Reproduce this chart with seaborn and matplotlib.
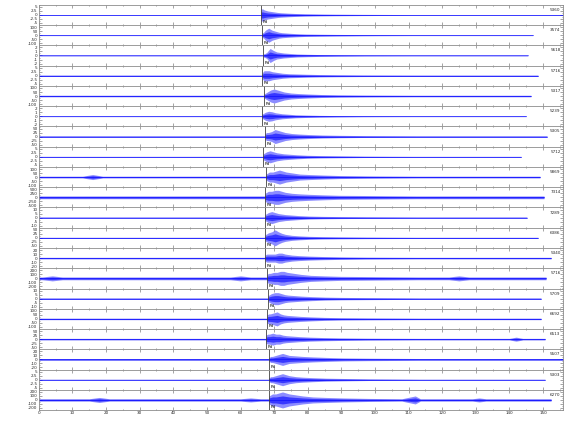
import numpy as np
import pandas as pd
import matplotlib
matplotlib.use("Agg")
import matplotlib.pyplot as plt
import seaborn as sns
from matplotlib.ticker import MultipleLocator, AutoMinorLocator

sns.set_style("ticks")

# station codes, top to bottom
stations = ["5360", "3574", "5618", "5716", "5317", "5239", "5305", "5712", "5869", "7314",
            "7289", "6386", "5340", "5716", "5709", "6692", "6513", "5507", "5303", "6270"]
# P pick time (s) and record end time (s)
pick_times = [66.1, 66.4, 66.8, 66.5, 67.0, 66.4, 67.3, 66.8, 67.6, 67.3,
              67.3, 67.3, 67.3, 67.9, 68.2, 67.9, 67.6, 68.5, 68.5, 68.5]
end_times = [156, 147.0, 145.5, 148.5, 146.4, 145.0, 151.2, 143.5, 149.1, 150.3,
             145.2, 148.5, 152.4, 150.9, 149.4, 149.4, 150.6, 156, 150.6, 152.4]
# background noise half-amplitude (display units, row = +-10)
noise_amp = [0.4, 0.4, 0.4, 0.7, 0.8, 0.4, 0.7, 0.5, 0.9, 1.4,
             0.6, 0.6, 0.8, 1.4, 0.7, 0.8, 0.8, 0.9, 0.5, 1.2]
# y tick label range per trace (counts)
ytick_max = [5, 100, 2, 5, 100, 2, 50, 5, 100, 500, 10, 50, 20, 200, 10, 100, 50, 20, 5, 200]

# envelope of each trace, seconds after the pick
env_offsets = [0, 0.5, 1, 2, 3, 4, 5, 6, 8, 10, 13, 17, 22, 30]
envelopes = [
    [6, 6, 5, 4, 3.5, 3, 2.5, 2.2, 1.8, 1.5, 1.2, 1, 0.8, 0.6],
    [2, 3, 5, 7, 5, 4, 3, 2.5, 2, 1.6, 1.2, 1, 0.8, 0.6],
    [1.5, 2, 3, 7, 5, 3.5, 3, 2.5, 2, 1.5, 1.2, 0.9, 0.7, 0.5],
    [3, 5, 5, 5, 4, 3.5, 3, 2.5, 2, 1.8, 1.5, 1.2, 1, 0.8],
    [2, 3, 4, 6, 7, 6, 5, 4, 3, 2.5, 2, 1.5, 1.2, 1],
    [2, 3, 4, 5, 4.5, 3.5, 3, 2.5, 2, 1.5, 1.2, 0.9, 0.7, 0.5],
    [3, 4, 4, 5, 7, 6, 5, 4, 3, 2.5, 2, 1.5, 1.2, 0.9],
    [3, 4, 5, 6, 5, 4, 3.5, 3, 2.5, 2, 1.5, 1.2, 1, 0.7],
    [3, 4, 5, 5, 6, 7, 6, 5, 4, 3, 2.5, 2, 1.5, 1.2],
    [4, 5, 6, 6, 7, 7, 6, 5, 4, 3.5, 3, 2.5, 2, 1.8],
    [3, 4, 5, 6, 5, 4, 3.5, 3, 2.5, 2, 1.5, 1.2, 1, 0.8],
    [3, 4, 5, 6, 8, 6, 4.5, 3.5, 2.5, 2, 1.5, 1.2, 1, 0.8],
    [3, 4, 4, 4, 4, 5, 5, 4, 3, 2.5, 2, 1.6, 1.3, 1],
    [4, 5, 5, 6, 6, 7, 7, 6, 5, 4, 3, 2.5, 2, 1.8],
    [3, 4, 5, 6, 6, 5, 4, 3.5, 3, 2.5, 2, 1.5, 1.2, 1],
    [4, 5, 5, 6, 7, 5, 4, 3.5, 3, 2.5, 2, 1.5, 1.2, 1],
    [4, 5, 5, 6, 5, 5, 4, 3.5, 3, 2.5, 2, 1.6, 1.3, 1],
    [2, 3, 3, 4, 5, 6, 5, 4, 3.5, 3, 2.5, 2, 1.5, 1.2],
    [2, 3, 3, 4, 5, 6, 5, 4, 3, 2.5, 2, 1.5, 1.2, 0.8],
    [4, 5, 6, 6, 7, 8, 7, 6, 5, 4, 3, 2.5, 2, 1.5],
]
# other wave packets seen on the records
burst_row = [8, 19, 19, 19, 19, 13, 13, 13, 16]
burst_time = [16, 18, 63, 112, 131, 4, 60, 125, 142]
burst_width = [3, 3, 3, 4, 2, 3, 3, 3, 2]
burst_amp = [2.5, 2.5, 2, 4, 2, 2.5, 2.5, 2.5, 2]

rows = []
for i, st in enumerate(stations):
    p, nz = pick_times[i], noise_amp[i]
    pts = [(0, nz), (p - 0.1, nz)]
    pts += [(p + o, a) for o, a in zip(env_offsets, envelopes[i])]
    pts += [(p + 45, nz), (end_times[i], nz)]
    for r, tc, w, a in zip(burst_row, burst_time, burst_width, burst_amp):
        if r == i:
            pts += [(tc - w, nz), (tc, a), (tc + w, nz)]
    pts.sort()
    for t, a in pts:
        rows.append({"row": i, "time": t, "amp": a})
df = pd.DataFrame(rows)

fig, axes = plt.subplots(len(stations), 1, figsize=(5.8, 4.4), dpi=100, sharex=True)
fig.subplots_adjust(left=0.067, right=0.971, top=0.989, bottom=0.068, hspace=0)

for i, ax in enumerate(axes):
    sub = df[df["row"] == i]
    # outer envelope light, inner core darker (dense wiggles)
    ax.fill_between(sub["time"], -sub["amp"], sub["amp"], color="blue", lw=0, alpha=0.45)
    ax.fill_between(sub["time"], -0.5 * sub["amp"], 0.5 * sub["amp"], color="blue",
                    lw=0, alpha=0.6)
    # baseline of the trace
    sns.lineplot(x=[0, end_times[i]], y=[0, 0], ax=ax, color="blue", lw=0.5,
                 alpha=0.7, estimator=None, legend=False)
    ax.axvline(pick_times[i], color="0.25", lw=0.6)
    ax.text(pick_times[i] + 0.4, -7.5, "Pd", fontsize=3, color="black", va="center")
    ax.text(0.995, 0.75, stations[i], transform=ax.transAxes, fontsize=3,
            ha="right", va="center")
    ax.set_xlim(0, 156)
    ax.set_ylim(-10.1, 10.1)
    m = ytick_max[i]
    ax.set_yticks([-8, -4, 0, 4, 8])
    ax.set_yticklabels([f"{-m:g}", f"{-m/2:g}", "0", f"{m/2:g}", f"{m:g}"])
    ax.xaxis.set_major_locator(MultipleLocator(10))
    ax.xaxis.set_minor_locator(MultipleLocator(5))
    ax.yaxis.set_minor_locator(AutoMinorLocator(2))
    ax.tick_params(which="both", direction="in", top=True, right=True,
                   color="0.5", width=0.5, labelsize=3, pad=1)
    ax.tick_params(which="major", length=2)
    ax.tick_params(which="minor", length=1)
    ax.set_xlabel("")
    ax.set_ylabel("")
    for s in ax.spines.values():
        s.set_color("0.55")
        s.set_linewidth(0.6)
    if i < len(stations) - 1:
        ax.tick_params(labelbottom=False)

fig.savefig("out.png", dpi=100)
